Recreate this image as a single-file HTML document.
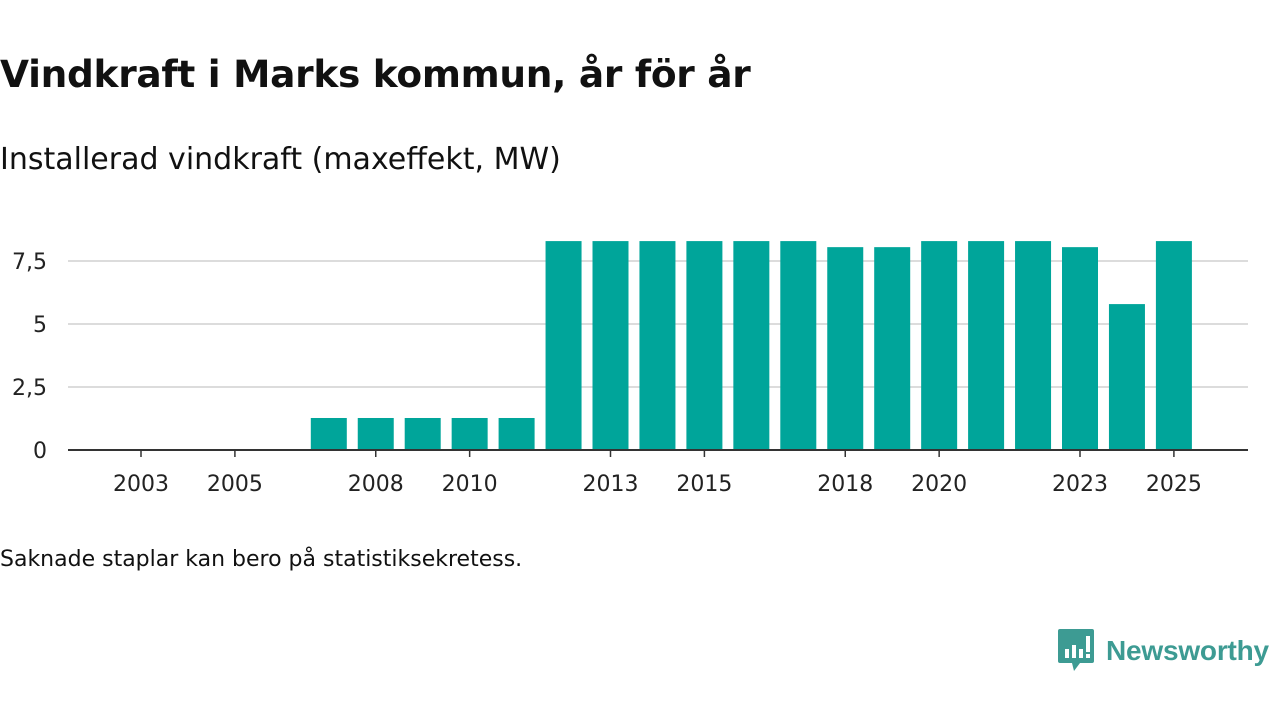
<!DOCTYPE html>
<html><head><meta charset="utf-8"><style>
body{margin:0;width:1280px;height:720px;background:#fff;font-family:"DejaVu Sans","Liberation Sans",sans-serif;color:#111;overflow:hidden;position:relative}
#title{position:absolute;left:0;top:52px;font-size:37.5px;font-weight:bold;margin:0;letter-spacing:-0.3px}
#sub{position:absolute;left:0;top:142px;font-size:30px}
#note{position:absolute;left:0;top:547px;font-size:22px}
#logo{position:absolute;left:1058px;top:629px;display:flex;align-items:center}
#logo span{color:#3d9b93;font-family:"Liberation Sans",sans-serif;font-size:28px;margin-left:12px;letter-spacing:-0.2px}
svg text{font-family:"DejaVu Sans","Liberation Sans",sans-serif;font-size:22px;fill:#222}
</style></head><body>
<h1 id="title">Vindkraft i Marks kommun, år för år</h1>
<div id="sub">Installerad vindkraft (maxeffekt, MW)</div>
<svg id="chart" width="1280" height="520" style="position:absolute;left:0;top:0"></svg>
<div id="note">Saknade staplar kan bero på statistiksekretess.</div>
<div id="logo">
<svg width="36" height="44" viewBox="0 0 36 44"><path d="M2 0H34Q36 0 36 2V32Q36 34 34 34H22L16 42L14 34H2Q0 34 0 32V2Q0 0 2 0Z" fill="#3d9b93"/><rect x="7" y="20" width="4" height="9" fill="#fff"/><rect x="14" y="16" width="4" height="13" fill="#fff"/><rect x="21" y="20" width="4" height="9" fill="#fff"/><rect x="28" y="7" width="4" height="16" fill="#fff"/><rect x="28" y="25" width="4" height="4" fill="#fff"/></svg>
<span><b>Newsworthy</b></span></div>
<script>
const years=[2003,2004,2005,2006,2007,2008,2009,2010,2011,2012,2013,2014,2015,2016,2017,2018,2019,2020,2021,2022,2023,2024,2025];
const values=[null,null,null,null,1.27,1.27,1.27,1.27,1.27,8.29,8.29,8.29,8.29,8.29,8.29,8.05,8.05,8.29,8.29,8.29,8.05,5.79,8.29];
const yTicks=[0,2.5,5,7.5];
const yTickLabels=["0","2,5","5","7,5"];
const xLabels=["2003","2005","2008","2010","2013","2015","2018","2020","2023","2025"];
const ns="http://www.w3.org/2000/svg",svg=document.getElementById('chart');
const y=v=>450-v*25.2, x=i=>141+i*46.95, bw=36;
function mk(t,a){const e=document.createElementNS(ns,t);for(const k in a)e.setAttribute(k,a[k]);svg.appendChild(e);return e;}
yTicks.forEach((t,i)=>{
 if(t>0){const g=mk('line',{x1:68,x2:1248,y1:y(t),y2:y(t),stroke:'#dcdcdc','stroke-width':2});
 
 }
 const l=mk('text',{x:47,y:y(t)+8,'text-anchor':'end'});l.textContent=yTickLabels[i];
 
 
});
values.forEach((v,i)=>{if(v==null)return;
 const r=mk('rect',{x:x(i)-bw/2,y:y(v),width:bw,height:y(0)-y(v),fill:'#00a59a'});
 
 
});
const ax=mk('line',{x1:68,x2:1248,y1:450,y2:450,stroke:'#333','stroke-width':2});


xLabels.forEach(s=>{const i=years.indexOf(+s);
 const tk=mk('line',{x1:x(i),x2:x(i),y1:450,y2:457,stroke:'#333','stroke-width':1.5});
 
 
 const l=mk('text',{x:x(i),y:491,'text-anchor':'middle'});l.textContent=s;
 
 
});
</script>
</body></html>
